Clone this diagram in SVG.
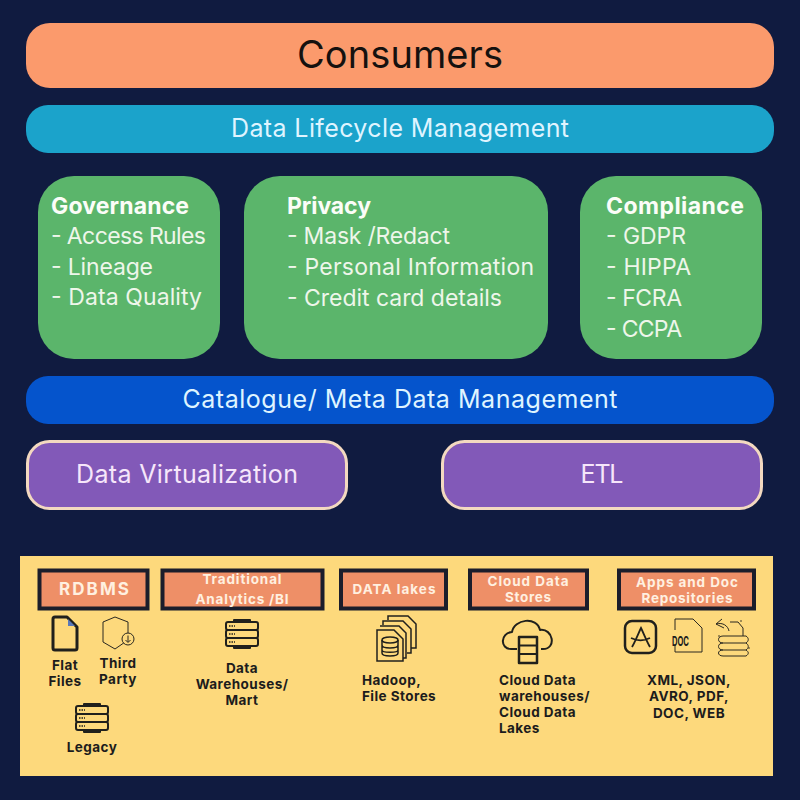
<svg xmlns="http://www.w3.org/2000/svg" width="800" height="800" viewBox="0 0 800 800">
<style>
text{font-family:Inter,"Open Sans","Liberation Sans",sans-serif}
.w{fill:#eef6ea;font-size:23px}
.wb{fill:#fbfdf8;font-size:23px;font-weight:700}
.lt{fill:#dff4ff;font-size:25px;text-anchor:middle}
.hd{fill:#fff0e0;font-weight:700;font-size:13.500px;text-anchor:middle}
.k{fill:#1c1c1c;font-weight:700;font-size:13.500px;letter-spacing:.45px}
.m{text-anchor:middle}
.hb{fill:#ee8f67;stroke:#1b1d2b;stroke-width:4}
.ic{fill:none;stroke:#20201c;stroke-width:2;stroke-linejoin:round}
.th{fill:none;stroke:#2a2820;stroke-width:1}
.grn{fill:#5bb56b}
.pur{fill:#8259b8;stroke:#f3d9c0;stroke-width:3}
</style>
<defs>
<g id="srv">
<rect class="ic" x="0" y="2" width="32" height="8" rx="2"/>
<rect class="ic" x="0" y="10" width="32" height="8" rx="2"/>
<rect class="ic" x="0" y="18" width="32" height="8" rx="2"/>
<path class="ic" d="M8 2V0H24V2M8 26V28H24V26"/>
<path d="M3 6h6M3 14h6M3 22h6" stroke="#20201c" stroke-width="1.500" stroke-dasharray="1.500 1" fill="none"/>
</g>
</defs>
<rect width="800" height="800" fill="#101b40"/>
<g id="consumers"><rect x="26" y="23" width="748" height="65" rx="24" fill="#fb9a6c"/><text x="400" y="68" font-size="38" text-anchor="middle" fill="#15110f" textLength="206">Consumers</text></g>
<g id="lifecycle"><rect x="26" y="105" width="748" height="48" rx="22" fill="#1ba3cb"/><text class="lt" x="400" y="137" textLength="338">Data Lifecycle Management</text></g>
<g id="governance"><rect class="grn" x="38" y="176" width="182" height="183" rx="36"/>
<text class="wb" x="51" y="214" textLength="138">Governance</text>
<text class="w" x="51" y="244" textLength="155">- Access Rules</text>
<text class="w" x="51" y="275" textLength="102">- Lineage</text>
<text class="w" x="51" y="305" textLength="151">- Data Quality</text></g>
<g id="privacy"><rect class="grn" x="244" y="176" width="304" height="183" rx="36"/>
<text class="wb" x="287" y="214" textLength="84">Privacy</text>
<text class="w" x="287" y="244" textLength="163">- Mask /Redact</text>
<text class="w" x="287" y="275" textLength="247">- Personal Information</text>
<text class="w" x="287" y="306" textLength="215">- Credit card details</text></g>
<g id="compliance"><rect class="grn" x="580" y="176" width="182" height="183" rx="36"/>
<text class="wb" x="606" y="214" textLength="138">Compliance</text>
<text class="w" x="606" y="244" textLength="80">- GDPR</text>
<text class="w" x="606" y="275" textLength="85">- HIPPA</text>
<text class="w" x="606" y="306" textLength="76">- FCRA</text>
<text class="w" x="606" y="337" textLength="76">- CCPA</text></g>
<g id="catalogue"><rect x="26" y="376" width="748" height="48" rx="22" fill="#0554cc"/><text class="lt" x="400" y="408" textLength="435">Catalogue/ Meta Data Management</text></g>
<g id="virtualization"><rect class="pur" x="27.500" y="441.500" width="319" height="67" rx="22"/><text x="187" y="483" font-size="25" text-anchor="middle" fill="#f6e6fa" textLength="222">Data Virtualization</text></g>
<g id="etl"><rect class="pur" x="442.500" y="441.500" width="319" height="67" rx="22"/><text x="602" y="483" font-size="25" text-anchor="middle" fill="#f6e6fa" textLength="43">ETL</text></g>
<rect id="sources" x="20" y="556" width="753" height="220" fill="#fdd97c"/>
<g id="rdbms"><rect class="hb" x="39.500" y="570.500" width="108" height="38"/><text class="hd" x="94" y="595" style="font-size:17px" textLength="70">RDBMS</text></g>
<g id="traditional"><rect class="hb" x="162.500" y="570.500" width="160" height="38"/><text class="hd" x="242" y="584" textLength="79">Traditional</text><text class="hd" x="242" y="604" textLength="93">Analytics /BI</text></g>
<g id="datalakes"><rect class="hb" x="341" y="570.500" width="105" height="38"/><text class="hd" x="394" y="594" textLength="83">DATA lakes</text></g>
<g id="cloud"><rect class="hb" x="470" y="570.500" width="117" height="38"/><text class="hd" x="528" y="586" textLength="81">Cloud Data</text><text class="hd" x="528" y="602" textLength="46">Stores</text></g>
<g id="apps"><rect class="hb" x="619" y="570.500" width="135" height="38"/><text class="hd" x="687" y="587" textLength="102">Apps and Doc</text><text class="hd" x="687" y="603" textLength="91">Repositories</text></g>
<g id="flatfiles">
<path d="M55 617H67L77 627V648Q77 650 75 650H55Q53 650 53 648V619Q53 617 55 617Z" fill="none" stroke="#20201c" stroke-width="3" stroke-linejoin="round"/>
<path d="M68 619L75 626H68Z" fill="#5a78b8"/>
<text class="k m" x="65" y="670">Flat</text><text class="k m" x="65" y="686">Files</text></g>
<g id="thirdparty">
<path class="th" d="M115 617L128 622V640L115 649L103 642V622Z"/>
<circle cx="128" cy="639" r="6" fill="#fdd97c" stroke="#2a2820"/>
<path class="th" d="M128 635.500V642M125.500 640L128 642.500L130.500 640"/>
<text class="k m" x="118" y="668">Third</text><text class="k m" x="118" y="684">Party</text></g>
<g id="legacy"><use href="#srv" x="76" y="704"/><text class="k m" x="92" y="752">Legacy</text></g>
<g id="warehouses"><use href="#srv" x="226" y="620"/>
<text class="k m" x="242" y="673">Data</text><text class="k m" x="242" y="689">Warehouses/</text><text class="k m" x="242" y="705">Mart</text></g>
<g id="hadoop">
<path class="th" style="stroke:#20201c;stroke-width:1.500" d="M388 620V616H408L416 624V648H411M383 625V621H403L411 629V653H407M380 626H399L406 633V658H403"/>
<path d="M377 630H394L403 639V661H377Z" fill="#fdd97c" stroke="#20201c" stroke-width="1.500"/>
<ellipse cx="390" cy="640" rx="8" ry="3" class="th" style="stroke:#20201c;stroke-width:1.500"/>
<path class="th" style="stroke:#20201c;stroke-width:1.500" d="M382 640V653C382 657 398 657 398 653V640M382 645C382 649 398 649 398 645M382 650C382 653 398 653 398 650"/>
<text class="k" x="362" y="685">Hadoop,</text><text class="k" x="362" y="701">File Stores</text></g>
<g id="clouddw">
<path class="ic" d="M517 649H511C500 649 500 633 512 632C514 619 537 616 540 630C553 628 557 649 543 649H541"/>
<rect class="ic" style="stroke-width:2.500" x="519" y="637" width="18" height="26"/>
<path class="ic" d="M519 645.500H537M519 654H537"/>
<text class="k" x="499" y="685">Cloud Data</text><text class="k" x="499" y="701">warehouses/</text><text class="k" x="499" y="717">Cloud Data</text><text class="k" x="499" y="733">Lakes</text></g>
<g id="repos">
<rect x="625" y="621" width="31" height="32" rx="7" fill="none" stroke="#20201c" stroke-width="2.500"/>
<path class="th" style="stroke:#20201c;stroke-width:1.800" d="M632 647C636 640 638 634 641 628C644 634 646 640 650 647M631 638C637 641 644 641 650 638"/>
<path class="th" d="M675 619H693L702 628V652H675"/>
<path class="th" d="M675 619V630M675 645V652"/>
<text x="672" y="646" font-size="13" font-weight="700" fill="#20201c" textLength="17" lengthAdjust="spacingAndGlyphs">DOC</text>
<path class="th" d="M730 622H738L743 628V636M724 628L716 624L722 619M716 624C723 622 728 626 729 631"/>
<path class="th" d="M723 636H746M723 643H746M723 650H746M723 656H746"/>
<path class="th" d="M723 636C717 636 717 643 723 643C717 643 717 650 723 650C717 650 717 656 723 656M746 636C749 638 749 641 746 643C749 645 749 648 746 650C749 652 749 654 746 656"/>
<circle cx="719" cy="636" r=".8" fill="#2a2820"/><circle cx="749" cy="648" r=".8" fill="#2a2820"/><circle cx="741" cy="621" r=".8" fill="#2a2820"/>
<text class="k m" x="689" y="685">XML, JSON,</text><text class="k m" x="689" y="701">AVRO, PDF,</text><text class="k m" x="689" y="718">DOC, WEB</text></g>
</svg>
